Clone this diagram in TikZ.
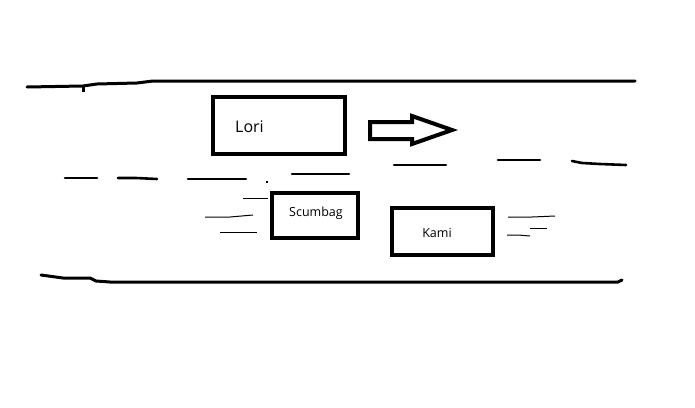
\documentclass[tikz,border=0pt]{standalone}
\usepackage{fontspec}
\setmainfont{Open Sans}
\begin{document}
\begin{tikzpicture}[x=1pt,y=-1pt,
  road/.style={line width=3pt,line cap=round,line join=round},
  lane/.style={line width=2.6pt,line cap=round},
  car/.style={draw,line width=4pt,minimum width=#1,inner sep=0pt},
  wind/.style={line width=1pt},
  lbl/.style={inner sep=0pt,text=black}]
\useasboundingbox (0,0) rectangle (695,407);
% road edges
\draw[road] (27,87) -- (83,86) -- (97,84) -- (137,83) -- (153,81) -- (635,81);
\draw[line width=3pt] (83,86) -- (83,92);
\draw[road] (41,275) -- (63,278) -- (90,278) -- (96,281) -- (110,282) -- (618,282) -- (622,280);
% lane dashes
\draw[lane] (65,178) -- (97,178);
\draw[lane] (118,178) -- (136,178) -- (157,179);
\draw[lane] (188,179) -- (246,179);
\draw[line width=2pt] (267,181) -- (267,183);
\draw[lane] (292,174) -- (349,174);
\draw[lane] (394,165) -- (446,165);
\draw[lane] (498,160) -- (540,160);
\draw[lane] (572,161) -- (582,163) -- (600,164) -- (626,165);
% cars
\node[car=132pt,minimum height=57pt] (lori) at (279,125.5) {};
\node[lbl,font=\fontsize{16}{18}\selectfont,anchor=west] (lorit) at (235,127) {Lori};
\node[car=86pt,minimum height=45pt] (scum) at (315,215.5) {};
\node[lbl,font=\fontsize{12.5}{14}\selectfont] (scumt) at (316,213) {Scumbag};
\node[car=101pt,minimum height=47pt] (kami) at (442.5,231.5) {};
\node[lbl,font=\fontsize{12.5}{14}\selectfont] (kamit) at (437,233) {Kami};
% direction arrow
\draw[line width=4pt,line join=miter] (370,122) -- (412,122) -- (412,116) -- (452,130) -- (412,144) -- (412,139) -- (370,139) -- cycle;
% speed lines
\draw[wind] (243,198) -- (268,198);
\draw[wind] (205,217) -- (230,217) -- (253,215);
\draw[wind] (220,232) -- (257,232);
\draw[wind] (508,217) -- (532,217) -- (555,216);
\draw[wind] (530,228) -- (547,228);
\draw[wind] (507,235) -- (518,235) -- (530,236);
\end{tikzpicture}
\end{document}
